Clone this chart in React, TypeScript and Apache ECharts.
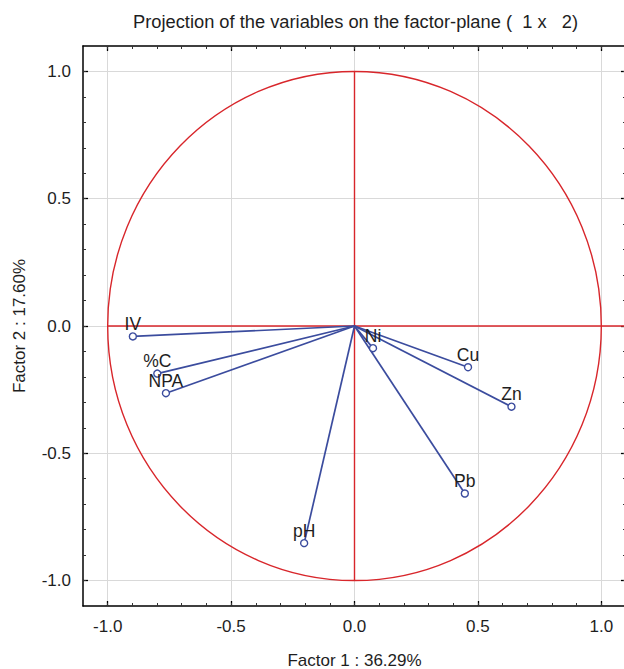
import React, { useEffect, useRef } from "react";
import * as echarts from "echarts";

// ---- data ----
const variables = ["IV", "%C", "NPA", "Ni", "Cu", "Zn", "Pb", "pH"];
const factor1 = [-0.898, -0.799, -0.764, 0.075, 0.46, 0.636, 0.447, -0.204];
const factor2 = [-0.041, -0.187, -0.264, -0.087, -0.162, -0.317, -0.658, -0.853];
const majorTicks = [-1.0, -0.5, 0.0, 0.5, 1.0];
const minorTicks = [
  -1.0, -0.9, -0.8, -0.7, -0.6, -0.5, -0.4, -0.3, -0.2, -0.1, 0.0,
  0.1, 0.2, 0.3, 0.4, 0.5, 0.6, 0.7, 0.8, 0.9, 1.0,
];
const axisMin = -1.1;
const axisMax = 1.1;
const titleText = "Projection of the variables on the factor-plane (  1 x   2)";
const xName = "Factor 1 : 36.29%";
const yName = "Factor 2 : 17.60%";

const FONT = "'Liberation Sans', Arial, Helvetica, sans-serif";
const RED = "#d8262b";
const BLUE = "#3b4c9e";
const TEXT = "#1e1e1e";

function makeAxes(dim: "x" | "y") {
  const sides = dim === "x" ? ["bottom", "top"] : ["left", "right"];
  const axes: any[] = [];
  sides.forEach((side, si) => {
    // major
    axes.push({
      type: "value",
      position: side,
      min: axisMin,
      max: axisMax,
      name: si === 0 ? (dim === "x" ? xName : yName) : "",
      nameLocation: "middle",
      nameGap: dim === "x" ? 46 : 55,
      nameRotate: dim === "y" ? 90 : 0,
      nameTextStyle: { fontFamily: FONT, fontSize: 17, color: TEXT },
      axisLine: { show: true, onZero: false, lineStyle: { color: "#000", width: 1.5 } },
      axisTick: {
        show: true,
        inside: true,
        length: 5,
        customValues: majorTicks,
        lineStyle: { color: "#000", width: 1.3 },
      },
      axisLabel: {
        show: si === 0,
        customValues: majorTicks,
        formatter: (v: number) => v.toFixed(1),
        fontFamily: FONT,
        fontSize: 17,
        color: TEXT,
        margin: 12,
      },
      splitLine: si === 0 ? { show: true, lineStyle: { color: "#d9d9d9", width: 1 } } : { show: false },
    });
    // minor
    axes.push({
      type: "value",
      position: side,
      min: axisMin,
      max: axisMax,
      axisLine: { show: false, onZero: false },
      axisTick: {
        show: true,
        inside: true,
        length: 3,
        customValues: minorTicks,
        lineStyle: { color: "#333", width: 1 },
      },
      axisLabel: { show: false },
      splitLine: { show: false },
    });
  });
  return axes;
}

export default function App() {
  const ref = useRef<HTMLDivElement>(null);

  useEffect(() => {
    document.body.style.margin = "0";
    if (!ref.current) return;
    const chart = echarts.init(ref.current, undefined, { renderer: "svg" });

    const points = variables.map((name, i) => ({ name, value: [factor1[i], factor2[i]] }));

    chart.setOption({
      animation: false,
      backgroundColor: "#ffffff",
      title: {
        text: titleText,
        left: 133,
        top: 12,
        padding: 0,
        textStyle: { fontFamily: FONT, fontSize: 18.3, fontWeight: "normal", color: TEXT },
      },
      grid: {
        left: 83,
        top: 46,
        width: 543,
        height: 560,
        containLabel: false,
        outerBoundsMode: "none",
      },
      xAxis: makeAxes("x"),
      yAxis: makeAxes("y"),
      series: [
        {
          type: "custom",
          name: "unit circle",
          silent: true,
          clip: false,
          data: [[0, 0]],
          renderItem: (params: any, api: any) => {
            const c = api.coord([0, 0]);
            const right = api.coord([1, 0]);
            const top = api.coord([0, 1]);
            const bottom = api.coord([0, -1]);
            const left = api.coord([-1, 0]);
            const edge = api.coord([axisMax, 0]);
            const style = { stroke: RED, lineWidth: 1.4, fill: null };
            return {
              type: "group",
              children: [
                {
                  type: "ellipse",
                  shape: { cx: c[0], cy: c[1], rx: right[0] - c[0], ry: c[1] - top[1] },
                  style: { stroke: RED, lineWidth: 1.4, fill: "none" },
                },
                { type: "line", shape: { x1: left[0], y1: c[1], x2: edge[0], y2: c[1] }, style },
                { type: "line", shape: { x1: c[0], y1: top[1], x2: c[0], y2: bottom[1] }, style },
              ],
            };
          },
          z: 1,
        },
        {
          type: "custom",
          name: "vectors",
          silent: true,
          data: points.map((p) => p.value),
          renderItem: (params: any, api: any) => {
            const o = api.coord([0, 0]);
            const p = api.coord([api.value(0), api.value(1)]);
            return {
              type: "line",
              shape: { x1: o[0], y1: o[1], x2: p[0], y2: p[1] },
              style: { stroke: BLUE, lineWidth: 1.7 },
            };
          },
          z: 2,
        },
        {
          type: "scatter",
          name: "variables",
          data: points,
          symbol: "circle",
          symbolSize: 7,
          itemStyle: { color: "#ffffff", borderColor: BLUE, borderWidth: 1.4, opacity: 1 },
          label: {
            show: true,
            position: "top",
            distance: -1,
            formatter: (p: any) => p.name,
            fontFamily: FONT,
            fontSize: 17.5,
            color: TEXT,
          },
          z: 3,
        },
      ],
    });

    return () => chart.dispose();
  }, []);

  return (
    <div
      ref={ref}
      style={{ position: "fixed", left: 0, top: 0, width: 624, height: 669, background: "#fff" }}
    />
  );
}
